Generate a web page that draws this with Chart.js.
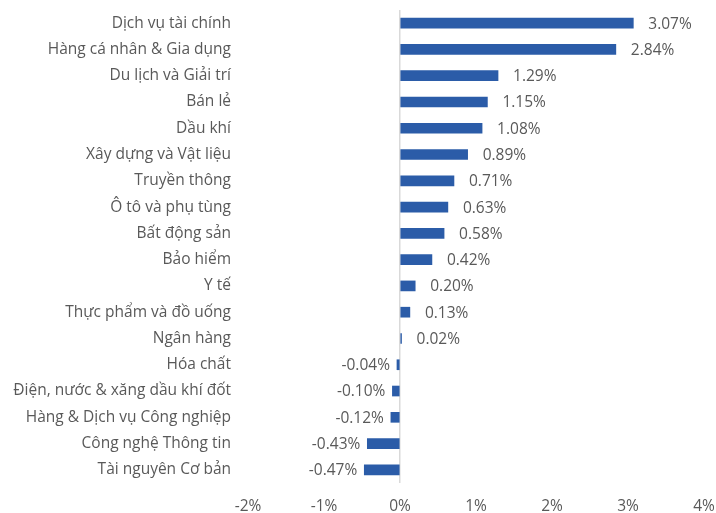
<!DOCTYPE html>
<html>
<head>
<meta charset="utf-8">
<script src="https://cdn.jsdelivr.net/npm/chart.js@4/dist/chart.umd.min.js"></script>
<style>
  html, body { margin: 0; padding: 0; background: #fff; }
  #wrap { width: 716px; height: 513px; }
</style>
</head>
<body>
<div id="wrap"><canvas id="chart"></canvas></div>
<script>
const sectors = [
    'Dịch vụ tài chính', 'Hàng cá nhân & Gia dụng', 'Du lịch và Giải trí', 'Bán lẻ',
    'Dầu khí', 'Xây dựng và Vật liệu', 'Truyền thông', 'Ô tô và phụ tùng',
    'Bất động sản', 'Bảo hiểm', 'Y tế', 'Thực phẩm và đồ uống', 'Ngân hàng',
    'Hóa chất', 'Điện, nước & xăng dầu khí đốt', 'Hàng & Dịch vụ Công nghiệp',
    'Công nghệ Thông tin', 'Tài nguyên Cơ bản'
];
const changes = [3.07, 2.84, 1.29, 1.15, 1.08, 0.89, 0.71, 0.63, 0.58, 0.42, 0.20, 0.13, 0.02,
    -0.04, -0.10, -0.12, -0.43, -0.47];
const axisMin = -2;
const axisMax = 4;

const FONT = '"Open Sans", Lato, sans-serif';
const FONT_SIZE = 15.5;
const TEXT = '#595959';

// value labels next to each bar end
const valueLabels = {
    id: 'valueLabels',
    afterDatasetsDraw(chart) {
        const ctx = chart.ctx;
        const meta = chart.getDatasetMeta(0);
        ctx.save();
        ctx.font = FONT_SIZE + 'px ' + FONT;
        ctx.fillStyle = TEXT;
        ctx.textBaseline = 'middle';
        meta.data.forEach((bar, i) => {
            const v = changes[i];
            const txt = v.toFixed(2) + '%';
            if (v >= 0) {
                ctx.textAlign = 'left';
                ctx.fillText(txt, bar.x + 15, bar.y + 1);
            } else {
                ctx.textAlign = 'right';
                ctx.fillText(txt, bar.x - 7, bar.y + 1);
            }
        });
        ctx.restore();
    }
};

new Chart(document.getElementById('chart'), {
    type: 'bar',
    data: {
        labels: sectors,
        datasets: [{
            data: changes,
            backgroundColor: '#2b5ca8',
            barThickness: 10
        }]
    },
    options: {
        indexAxis: 'y',
        responsive: true,
        maintainAspectRatio: false,
        animation: false,
        layout: { padding: { top: 10, right: 12, left: 0, bottom: 0 } },
        plugins: {
            legend: { display: false },
            tooltip: { enabled: false }
        },
        scales: {
            x: {
                min: axisMin,
                max: axisMax,
                ticks: {
                    stepSize: 1,
                    color: TEXT,
                    font: { family: FONT, size: FONT_SIZE },
                    padding: 14,
                    callback: v => v + '%'
                },
                grid: {
                    drawTicks: false,
                    color: ctx => ctx.tick && ctx.tick.value === 0 ? '#d9d9d9' : 'transparent',
                    lineWidth: 1.5
                },
                border: { display: false },
                afterFit: scale => {
                    scale.height = 30;
                    scale.paddingLeft = 0;
                    scale.paddingRight = 0;
                }
            },
            y: {
                ticks: {
                    color: TEXT,
                    font: { family: FONT, size: FONT_SIZE },
                    padding: 17
                },
                grid: { display: false, drawTicks: false },
                border: { display: false },
                afterFit: scale => {
                    scale.width = 248;
                    scale.paddingTop = 0;
                    scale.paddingBottom = 0;
                }
            }
        }
    },
    plugins: [valueLabels]
});
</script>
</body>
</html>
